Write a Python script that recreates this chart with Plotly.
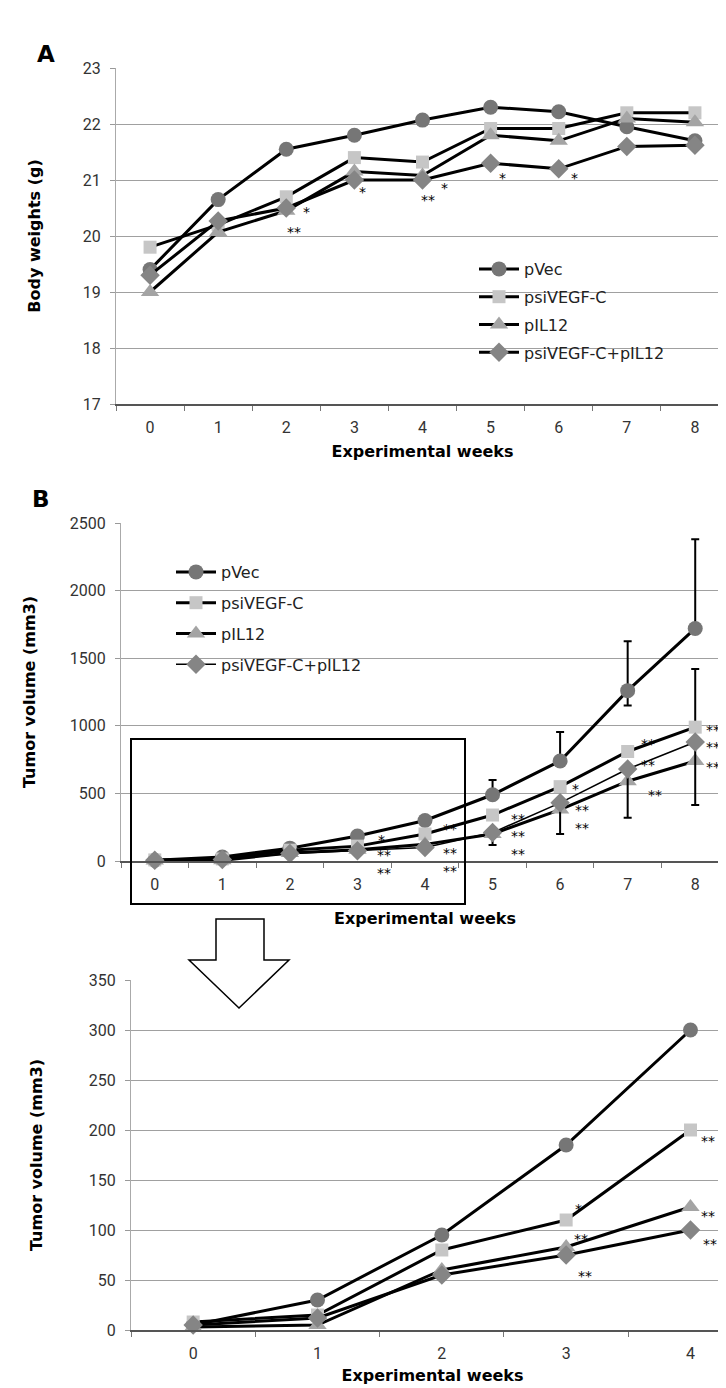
import plotly.graph_objects as go

W, H = 726, 1388

# ---------------- data ----------------
series_names = ["pVec", "psiVEGF-C", "pIL12", "psiVEGF-C+pIL12"]
weeks_full = [0, 1, 2, 3, 4, 5, 6, 7, 8]
weeks_early = [0, 1, 2, 3, 4]
week_labels_full = ["0", "1", "2", "3", "4", "5", "6", "7", "8"]
week_labels_early = ["0", "1", "2", "3", "4"]

body_pvec = [19.4, 20.65, 21.55, 21.8, 22.07, 22.3, 22.22, 21.95, 21.7]
body_vegf = [19.8, 20.2, 20.7, 21.4, 21.32, 21.92, 21.92, 22.2, 22.2]
body_il12 = [19.0, 20.07, 20.45, 21.15, 21.08, 21.8, 21.7, 22.1, 22.03]
body_combo = [19.3, 20.27, 20.5, 21.0, 21.0, 21.3, 21.2, 21.6, 21.62]

tumor_pvec = [5, 30, 95, 185, 300, 490, 740, 1260, 1720]
tumor_vegf = [8, 15, 80, 110, 200, 340, 550, 810, 990]
tumor_il12 = [3, 5, 60, 83, 123, 200, 380, 590, 740]
tumor_combo = [5, 12, 55, 75, 100, 210, 430, 680, 880]

pvec_err_plus = [None, None, None, None, None, 110, 215, 365, 660]
pvec_err_minus = [None, None, None, None, None, None, None, 110, None]
vegf_err_plus = [None, None, None, None, None, None, None, None, 430]
combo_err_minus = [None, None, None, None, None, 92, 230, 360, 465]

stars_a = [(2.3, 20.5, "*"), (2.12, 20.15, "**"), (3.12, 20.85, "*"),
           (4.08, 20.72, "**"), (4.32, 20.93, "*"), (5.17, 21.1, "*"),
           (6.23, 21.1, "*")]
stars_b = [(3.36, 185, "*"), (3.4, 4, "**<br>**"),
           (4.37, 265, "**"), (4.37, 22, "**<br>**"),
           (5.37, 340, "**"), (5.37, 151, "**<br>**"),
           (6.23, 560, "*"), (6.33, 342, "**<br>**"),
           (7.3, 895, "**"), (7.3, 740, "**"), (7.4, 518, "**"),
           (8.27, 998, "**"), (8.27, 873, "**"), (8.27, 725, "**")]
stars_c = [(3.1, 125, "*"), (3.12, 95, "**"), (3.15, 58, "**"),
           (4.14, 193, "**"), (4.14, 118, "**"), (4.16, 90, "**")]

# ---------------- styles ----------------
marker_styles = [
    dict(symbol="circle", color="#767676", size=15),
    dict(symbol="square", color="#c6c6c6", size=13),
    dict(symbol="triangle-up", color="#a4a4a4", size=16),
    dict(symbol="diamond", color="#858585", size=15),
]

def px_x(p):
    return p / W

def px_y(p):
    return 1 - p / H

fig = go.Figure()

# Panel A
body_series = [body_pvec, body_vegf, body_il12, body_combo]
for i, (name, ys) in enumerate(zip(series_names, body_series)):
    fig.add_trace(go.Scatter(
        x=weeks_full, y=ys, name=name, mode="lines+markers",
        line=dict(color="black", width=3),
        marker=dict(**marker_styles[i], line=dict(width=0)),
        xaxis="x", yaxis="y", legend="legend", legendgroup="a%d" % i,
        cliponaxis=False,
    ))

# Panel B
tumor_series = [tumor_pvec, tumor_vegf, tumor_il12, tumor_combo]
err_plus = [pvec_err_plus, vegf_err_plus, None, None]
err_minus = [pvec_err_minus, None, None, combo_err_minus]
b_widths = [3, 3, 3, 1.6]
for i, (name, ys) in enumerate(zip(series_names, tumor_series)):
    ey = None
    if err_plus[i] is not None or err_minus[i] is not None:
        ey = dict(type="data", symmetric=False,
                  array=err_plus[i] if err_plus[i] is not None else [None] * len(ys),
                  arrayminus=err_minus[i] if err_minus[i] is not None else [None] * len(ys),
                  color="black", thickness=2, width=4)
    fig.add_trace(go.Scatter(
        x=weeks_full, y=ys, name=name, mode="lines+markers",
        line=dict(color="black", width=b_widths[i]),
        marker=dict(**marker_styles[i], line=dict(width=0)),
        error_y=ey,
        xaxis="x2", yaxis="y2", legend="legend2", legendgroup="b%d" % i,
        cliponaxis=False,
    ))

# Panel C
for i, (name, ys) in enumerate(zip(series_names, tumor_series)):
    fig.add_trace(go.Scatter(
        x=weeks_early, y=ys[:len(weeks_early)], name=name, mode="lines+markers",
        line=dict(color="black", width=3),
        marker=dict(**marker_styles[i], line=dict(width=0)),
        xaxis="x3", yaxis="y3", showlegend=False,
        cliponaxis=False,
    ))

tick_font = dict(family="Roboto, Liberation Sans, sans-serif", size=16, color="#333")
title_font = dict(family="DejaVu Sans, sans-serif", size=16, color="black", weight="bold")
grid_color = "#a0a0a0"

def xaxis_cfg(domain, rng, vals, labels, anchor, standoff):
    return dict(
        domain=domain, range=rng, anchor=anchor,
        tickmode="array", tickvals=vals, ticktext=labels,
        ticks="", tickfont=tick_font, ticklabelstandoff=8,
        minor=dict(tickmode="array", tickvals=[v + 0.5 for v in vals[:-1]] + [vals[0] - 0.5],
                   ticks="outside", ticklen=5, tickcolor="#777", showgrid=False),
        showgrid=False, zeroline=False, showline=True, linecolor="#555", linewidth=1.5,
        title=dict(text="Experimental weeks", font=title_font, standoff=standoff),
        automargin=False, fixedrange=True,
    )

def yaxis_cfg(domain, rng, dtick, anchor, title, standoff):
    return dict(
        domain=domain, range=rng, anchor=anchor, dtick=dtick, tick0=rng[0],
        ticks="outside", ticklen=5, tickcolor="#999", tickfont=tick_font,
        ticklabelstandoff=6,
        showgrid=True, gridcolor=grid_color, gridwidth=1,
        zeroline=False, showline=True, linecolor="#aaa", linewidth=1,
        title=dict(text=title, font=title_font, standoff=standoff),
        automargin=False, fixedrange=True,
    )

annotations = []
for xref, yref, stars in (("x", "y", stars_a), ("x2", "y2", stars_b), ("x3", "y3", stars_c)):
    for sx, sy, st in stars:
        annotations.append(dict(x=sx, y=sy, xref=xref, yref=yref, text=st, showarrow=False,
                                font=dict(family="DejaVu Sans, sans-serif", size=14, color="black"),
                                yshift=-4))

annotations.append(dict(x=px_x(27), y=px_y(31), xref="paper", yref="paper", text="A",
                        showarrow=False, font=dict(family="DejaVu Sans", size=23, color="black", weight="bold")))
annotations.append(dict(x=px_x(22), y=px_y(491), xref="paper", yref="paper", text="B",
                        showarrow=False, font=dict(family="DejaVu Sans", size=23, color="black", weight="bold")))

def pt(x, y):
    return "%f,%f" % (px_x(x), px_y(y))

arrow_path = "M " + " L ".join([pt(208, 911), pt(256, 911), pt(256, 952), pt(281, 952),
                                pt(231, 1000), pt(181, 952), pt(208, 952)]) + " Z"

shapes = [
    dict(type="rect", xref="paper", yref="paper", x0=px_x(123), x1=px_x(457),
         y0=px_y(896), y1=px_y(731), line=dict(color="black", width=2)),
    dict(type="path", xref="paper", yref="paper", path=arrow_path,
         line=dict(color="black", width=1.5), fillcolor="white"),
]

legend_font = dict(family="DejaVu Sans, sans-serif", size=16, color="#222")

fig.update_layout(
    width=W, height=H,
    margin=dict(l=0, r=0, t=0, b=0),
    paper_bgcolor="white", plot_bgcolor="white",
    showlegend=True,
    xaxis=xaxis_cfg([px_x(108), px_x(721)], [-0.5, 8.5], weeks_full, week_labels_full, "y", 10),
    yaxis=yaxis_cfg([px_y(396), px_y(60)], [17, 23], 1, "x", "Body weights (g)", 38),
    xaxis2=xaxis_cfg([px_x(113), px_x(721)], [-0.5, 8.5], weeks_full, week_labels_full, "y2", 20),
    yaxis2=yaxis_cfg([px_y(853), px_y(515)], [0, 2500], 500, "x2", "Tumor volume (mm3)", 30),
    xaxis3=xaxis_cfg([px_x(123), 1.0], [-0.5, 4.35], weeks_early, week_labels_early, "y3", 8),
    yaxis3=yaxis_cfg([px_y(1322), px_y(972)], [0, 350], 50, "x3", "Tumor volume (mm3)", 42),
    legend=dict(x=px_x(466), y=px_y(244), xanchor="left", yanchor="top",
                bgcolor="rgba(0,0,0,0)", font=legend_font, tracegroupgap=4,
                itemwidth=40),
    legend2=dict(x=px_x(163), y=px_y(547), xanchor="left", yanchor="top",
                 bgcolor="rgba(0,0,0,0)", font=legend_font, tracegroupgap=7,
                 itemwidth=40),
    annotations=annotations,
    shapes=shapes,
)

fig.write_html("out.html")
